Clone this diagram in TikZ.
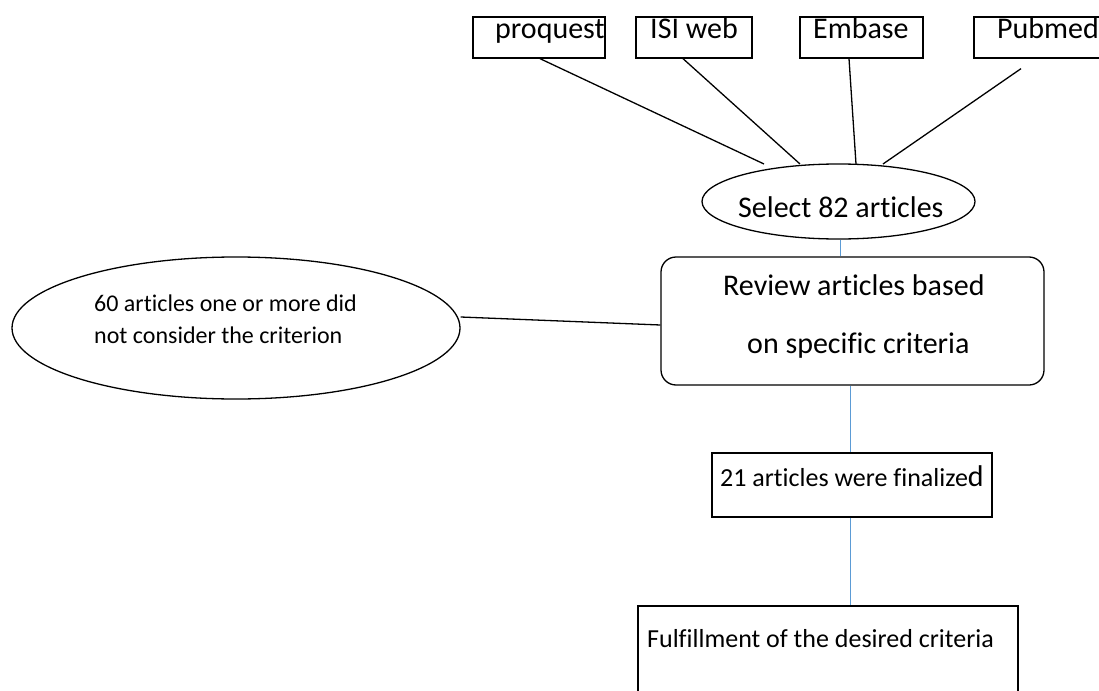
\documentclass[tikz,border=0pt]{standalone}
\usepackage{fontspec}
\setmainfont{Carlito}[Ligatures={NoCommon,NoContextual}]
\usetikzlibrary{shapes.geometric,calc}
\definecolor{linkblue}{RGB}{91,155,213}
\tikzset{
  box/.style={draw, line width=1.3pt, rectangle, inner sep=0pt},
  oval/.style={draw, line width=1.3pt, ellipse, inner sep=0pt},
  link/.style={line width=1.3pt},
  bluelink/.style={draw=linkblue, line width=1pt},
  txt/.style={inner sep=0pt, anchor=base west},
  big/.style={font=\fontsize{30}{36}\selectfont},
  mid/.style={font=\fontsize{26}{30}\selectfont},
  small/.style={font=\fontsize{24}{28}\selectfont},
}
\begin{document}
\begin{tikzpicture}[x=1pt,y=-1pt]
\useasboundingbox (0,0) rectangle (1099,690);
\clip (0,0) rectangle (1099,690);
\fill[white] (0,0) rectangle (1099,690);
% source boxes
\node[box, minimum width=132pt, minimum height=41pt] (pq) at (539,37.5) {};
\node[box, minimum width=116pt, minimum height=41pt] (isi) at (694,37.5) {};
\node[box, minimum width=123pt, minimum height=41pt] (emb) at (861.5,37.5) {};
\node[box, minimum width=150pt, minimum height=41pt] (pub) at (1049,37.5) {};
\node[txt, big] (pqt) at (495,39) {proquest};
\node[txt, big] (isit) at (650,39) {ISI web};
\node[txt, big] (embt) at (813,39) {Embase};
\node[txt, big] (pubt) at (997,39) {Pubmed};
% select ellipse
\node[oval, minimum width=273pt, minimum height=75pt] (sel) at (838.5,201.5) {};
\node[txt, big] (selt) at (738,217) {Select 82 articles};
% review box
\node[box, rounded corners=15pt, minimum width=383pt, minimum height=128pt] (rev) at (852.5,321) {};
\node[txt, big] (rev1) at (723,295) {Review articles based};
\node[txt, big] (rev2) at (747,353) {on specific criteria};
% excluded ellipse
\node[oval, minimum width=448pt, minimum height=142pt] (crit) at (236,328) {};
\node[txt, small] (crit1) at (94,311) {60 articles one or more did};
\node[txt, small] (crit2) at (94,343) {not consider the criterion};
% finalized box
\node[box, minimum width=280pt, minimum height=64pt] (fin) at (852,485) {};
\node[txt] (fint) at (720,486) {\fontsize{26}{30}\selectfont 21 articles were finalize\fontsize{30}{36}\selectfont d};
% fulfillment box
\node[box, minimum width=380pt, minimum height=114pt] (ful) at (828,663) {};
\node[txt, mid] (fult) at (647,647) {Fulfillment of the desired criteria};
% connectors
\coordinate (e1) at (764,164);
\coordinate (e2) at (800,164);
\coordinate (e3) at (856,164);
\coordinate (e4) at (883,164);
\draw[link] ([xshift=1pt]pq.south) -- (e1);
\draw[link] ([xshift=-11pt]isi.south) -- (e2);
\draw[link] ([xshift=-12.5pt]emb.south) -- (e3);
\draw[link] ([xshift=-28pt,yshift=-10pt]pub.south) -- (e4);
\draw[bluelink] ([xshift=2pt]sel.south) -- ([xshift=2pt]sel.south |- rev.north);
\draw[link] ([yshift=11pt]crit.east) -- ([yshift=-4pt]rev.west);
\draw[bluelink] ([xshift=-2pt]fin.north |- rev.south) -- ([xshift=-2pt]fin.north);
\draw[bluelink] ([xshift=-2pt]fin.south) -- ([xshift=-2pt]fin.south |- ful.north);
\end{tikzpicture}
\end{document}
